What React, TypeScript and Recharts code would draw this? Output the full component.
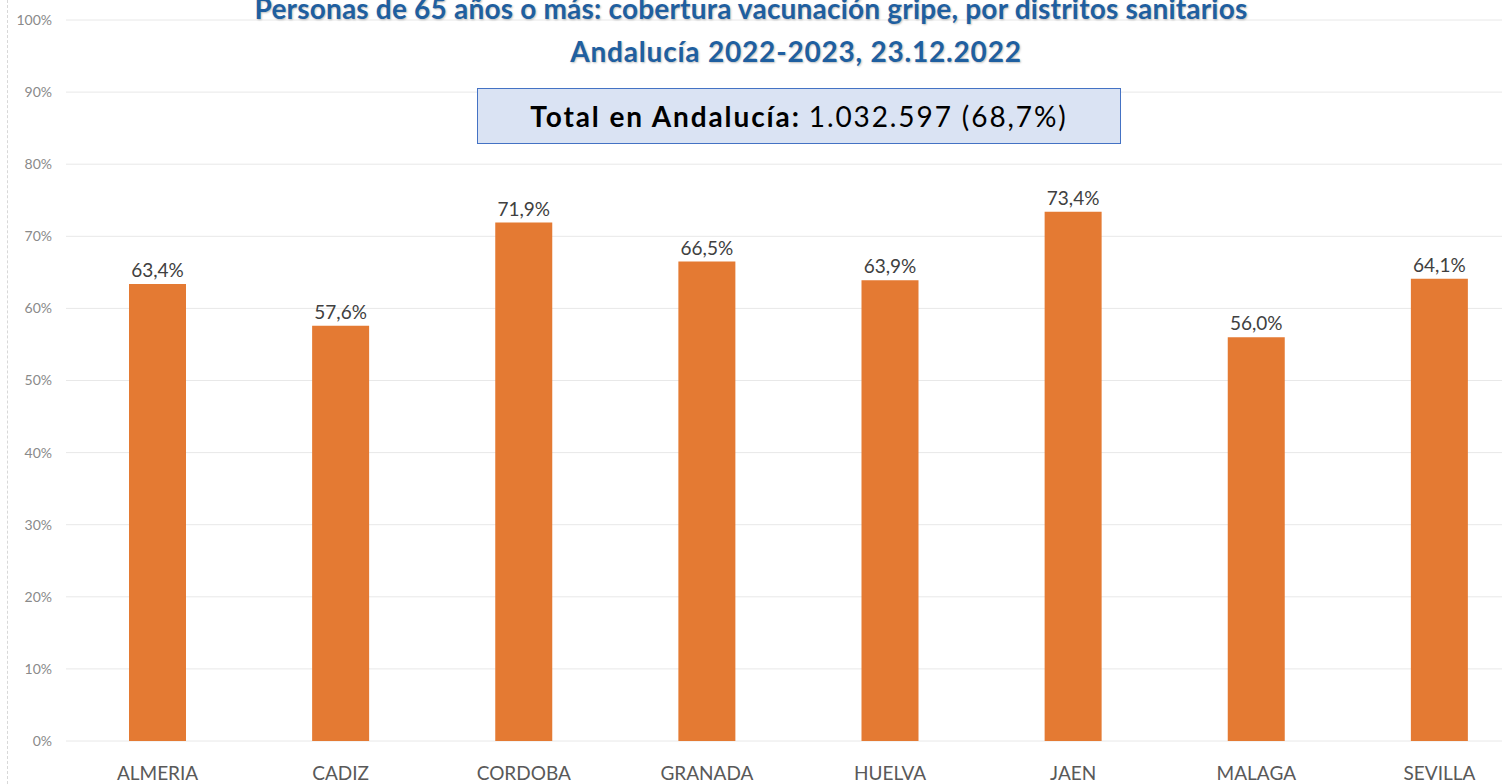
import { BarChart, Bar, XAxis, YAxis, CartesianGrid, LabelList } from "recharts";

const districts = ["ALMERIA", "CADIZ", "CORDOBA", "GRANADA", "HUELVA", "JAEN", "MALAGA", "SEVILLA"];
const coverage = [63.4, 57.6, 71.9, 66.5, 63.9, 73.4, 56.0, 64.1];
const yTicks = [0, 10, 20, 30, 40, 50, 60, 70, 80, 90, 100];

const titleLine1 = "Personas de 65 años o más: cobertura vacunación gripe, por distritos sanitarios";
const titleLine2 = "Andalucía 2022-2023, 23.12.2022";
const totalLabel = "Total en Andalucía:";
const totalValue = "1.032.597 (68,7%)";

const data = districts.map((d, i) => ({ name: d, value: coverage[i] }));

const fmt = (v: number) => v.toFixed(1).replace(".", ",") + "%";

const titleStyle = {
  position: "absolute" as const,
  left: 0,
  width: 1502,
  textAlign: "center" as const,
  color: "#1f5fa0",
  fontWeight: 700,
  fontSize: 28,
  lineHeight: "28px",
  whiteSpace: "nowrap" as const,
  textShadow: "1px 1px 2px rgba(0,0,0,0.25)",
};

export default function App() {
  return (
    <div
      style={{
        position: "fixed",
        left: 0,
        top: 0,
        width: 1502,
        height: 784,
        overflow: "hidden",
        background: "#fff",
        fontFamily: "Lato, sans-serif",
      }}
    >
      {/* faint ruler on the left */}
      <div
        style={{
          position: "absolute",
          left: 7,
          top: 0,
          height: 784,
          borderLeft: "1px dashed #d8d8d8",
        }}
      />

      <BarChart
        width={1531}
        height={784}
        data={data}
        margin={{ top: 20, right: 0, bottom: 0, left: 0 }}
        barCategoryGap={0}
      >
        <CartesianGrid vertical={false} stroke="#e8e8e8" />
        <XAxis
          dataKey="name"
          axisLine={false}
          tickLine={false}
          tickSize={0}
          tickMargin={26}
          height={43}
          tick={{ fill: "#595959", fontSize: 19 }}
          interval={0}
        />
        <YAxis
          domain={[0, 100]}
          ticks={yTicks}
          tickFormatter={(v: number) => v + "%"}
          axisLine={false}
          tickLine={false}
          tickSize={0}
          tickMargin={14}
          width={66}
          tick={{ fill: "#8a8a8a", fontSize: 14 }}
        />
        <Bar dataKey="value" fill="#e47a33" barSize={57} isAnimationActive={false}>
          <LabelList
            dataKey="value"
            position="top"
            offset={7}
            formatter={(v: number) => fmt(v)}
            style={{ fill: "#404040", fontSize: 19 }}
          />
        </Bar>
      </BarChart>

      {/* title */}
      <div style={{ ...titleStyle, top: -6, letterSpacing: 0.2 }}>{titleLine1}</div>
      <div style={{ ...titleStyle, top: 37, letterSpacing: 0.8, paddingLeft: 90, boxSizing: "border-box" }}>
        {titleLine2}
      </div>

      {/* total box */}
      <div
        style={{
          position: "absolute",
          left: 477,
          top: 88,
          width: 644,
          height: 56,
          boxSizing: "border-box",
          background: "#dae3f3",
          border: "1.5px solid #4472c4",
          display: "flex",
          alignItems: "center",
          justifyContent: "center",
          fontSize: 28,
          letterSpacing: 1.9,
          color: "#000",
          whiteSpace: "nowrap",
        }}
      >
        <span style={{ fontWeight: 700 }}>{totalLabel}</span>
        <span style={{ marginLeft: 8 }}>{totalValue}</span>
      </div>
    </div>
  );
}
